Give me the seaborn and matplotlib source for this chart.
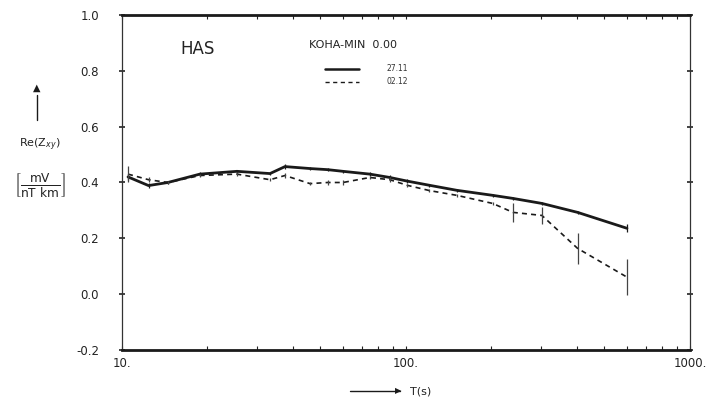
import numpy as np
import pandas as pd
import seaborn as sns
import matplotlib.pyplot as plt

# periods (s) and Re(Zxy) values
periods = [10.5, 12.4, 14.5, 18.8, 25.4, 33.2, 37.5, 45.9, 53, 60,
           74.6, 87.7, 101, 121, 151, 202, 238, 301, 402, 600]
re_2711 = [0.42, 0.389, 0.40, 0.43, 0.44, 0.432, 0.457, 0.45, 0.446, 0.44,
           0.43, 0.418, 0.405, 0.39, 0.372, 0.354, 0.343, 0.325, 0.293, 0.236]
re_0212 = [0.43, 0.41, 0.40, 0.425, 0.43, 0.41, 0.425, 0.396, 0.40, 0.40,
           0.418, 0.41, 0.39, 0.371, 0.354, 0.325, 0.293, 0.282, 0.164, 0.061]
err_2711 = [0.01, 0.01, 0.006, 0.006, 0.006, 0.006, 0.01, 0.006, 0.006, 0.006,
            0.008, 0.008, 0.006, 0.006, 0.006, 0.006, 0.006, 0.006, 0.006, 0.015]
err_0212 = [0.03, 0.01, 0.006, 0.006, 0.006, 0.006, 0.008, 0.006, 0.008, 0.008,
            0.006, 0.008, 0.006, 0.006, 0.006, 0.006, 0.035, 0.03, 0.055, 0.065]

series_labels = ["27.11", "02.12"]
yticks = [-0.2, 0.0, 0.2, 0.4, 0.6, 0.8, 1.0]
xticks = [10, 100, 1000]
xticklabels = ["10.", "100.", "1000."]

df = pd.DataFrame({
    "T": periods * 2,
    "re": re_2711 + re_0212,
    "day": [series_labels[0]] * len(periods) + [series_labels[1]] * len(periods),
})

sns.set_style("ticks")
plt.rcParams["font.family"] = ["DejaVu Sans"]

fig = plt.figure(figsize=(7.06, 4.03), dpi=100)
ax = fig.add_axes([0.1728, 0.1315, 0.8045, 0.8313])

ink = "#1a1a1a"
sns.lineplot(data=df, x="T", y="re", style="day", hue="day",
             palette=[ink, ink], dashes=[(None, None), (3, 2.5)],
             linewidth=1.6, legend=False, ax=ax)
ax.lines[0].set_linewidth(2.0)
ax.lines[1].set_linewidth(1.2)

ax.errorbar(periods, re_2711, yerr=err_2711, fmt="none", ecolor=ink, elinewidth=0.9)
ax.errorbar(periods, re_0212, yerr=err_0212, fmt="none", ecolor="#444444",
            elinewidth=0.9, linestyle=(0, (2, 1)))

ax.set_xscale("log")
ax.set_xlim(10, 1000)
ax.set_ylim(-0.2, 1.0)
ax.set_xticks(xticks)
ax.set_xticklabels(xticklabels, fontsize=8.5, color="#222")
ax.set_yticks(yticks)
ax.set_yticklabels(["-0.2", "0.0", "0.2", "0.4", "0.6", "0.8", "1.0"],
                   fontsize=8.5, color="#222")
ax.tick_params(axis="y", direction="inout", length=5, width=1.2, right=True,
               colors="#222", pad=14)
ax.tick_params(axis="x", which="both", direction="in", top=True, length=3,
               width=0.8, colors="#222", pad=5)
ax.set_xlabel("")
ax.set_ylabel("")

for side in ["top", "bottom"]:
    ax.spines[side].set_linewidth(2.0)
    ax.spines[side].set_color(ink)
for side in ["left", "right"]:
    ax.spines[side].set_linewidth(0.9)
    ax.spines[side].set_color("#333")
    ax.spines[side].set_linestyle((0, (6, 1)))

# annotations inside the plot
ax.text(0.103, 0.885, "HAS", transform=ax.transAxes, fontsize=12, color="#222")
ax.text(0.33, 0.9, "KOHA-MIN  0.00", transform=ax.transAxes, fontsize=8, color="#222")
ax.plot([0.357, 0.418], [0.84, 0.84], transform=ax.transAxes, color=ink, lw=1.8)
ax.plot([0.357, 0.418], [0.80, 0.80], transform=ax.transAxes, color=ink, lw=1,
        dashes=(3, 2.5))
ax.text(0.465, 0.84, series_labels[0], transform=ax.transAxes, fontsize=5.5,
        va="center", color="#333")
ax.text(0.465, 0.80, series_labels[1], transform=ax.transAxes, fontsize=5.5,
        va="center", color="#333")

# y axis label with arrow
fig.add_artist(plt.Line2D([37 / 706, 37 / 706], [1 - 120 / 403, 1 - 95 / 403],
                          color=ink, lw=1))
fig.text(37 / 706, 1 - 88 / 403, "▲", fontsize=7, ha="center", va="center", color=ink)
fig.text(40 / 706, 1 - 145 / 403, r"Re(Z$_{xy}$)", fontsize=8, ha="center",
         va="center", color="#222")
fig.text(40 / 706, 1 - 186 / 403, r"$\left[\frac{\mathrm{mV}}{\mathrm{nT\ km}}\right]$",
         fontsize=12.5, ha="center", va="center", color="#222")

# x axis label with arrow
fig.add_artist(plt.Line2D([350 / 706, 400 / 706], [1 - 391 / 403, 1 - 391 / 403],
                          color=ink, lw=1))
fig.text(398 / 706, 1 - 391 / 403, "▶", fontsize=6, ha="center", va="center", color=ink)
fig.text(410 / 706, 1 - 391 / 403, "T(s)", fontsize=8, ha="left", va="center",
         color="#222")

fig.savefig("out.png", dpi=100, facecolor="white")
